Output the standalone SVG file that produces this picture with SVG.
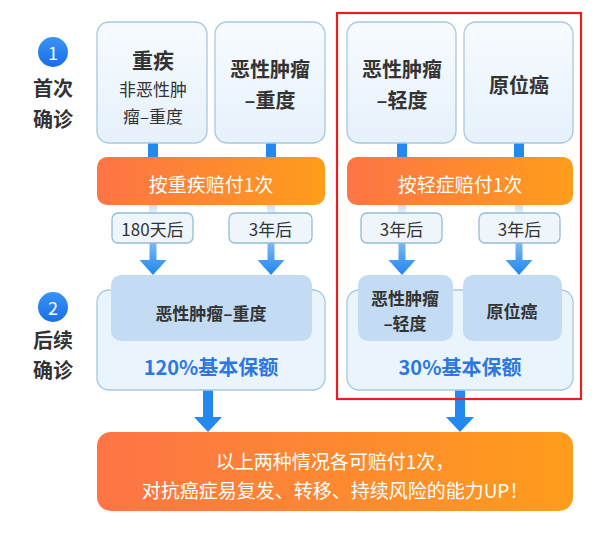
<svg xmlns="http://www.w3.org/2000/svg" width="599" height="540" viewBox="0 0 599 540">
<defs>
<linearGradient id="og" x1="0" y1="0" x2="1" y2="0"><stop offset="0" stop-color="#fd7446"/><stop offset="1" stop-color="#fe9d1b"/></linearGradient>
<linearGradient id="bx" x1="0" y1="0" x2="0" y2="1"><stop offset="0" stop-color="#f7fbff"/><stop offset="1" stop-color="#e6f1fb"/></linearGradient>
<linearGradient id="fade" x1="0" y1="0" x2="0" y2="1"><stop offset="0" stop-color="#c9dff3"/><stop offset="1" stop-color="#eaf3fb"/></linearGradient>
<linearGradient id="arr" x1="0" y1="0" x2="0" y2="1"><stop offset="0" stop-color="#7ab8f2"/><stop offset="1" stop-color="#1d86f0"/></linearGradient>
<linearGradient id="cg" x1="0" y1="0" x2="0" y2="1"><stop offset="0" stop-color="#3a93f5"/><stop offset="1" stop-color="#176fe6"/></linearGradient>
</defs>
<style>
.box{fill:url(#bx);stroke:#a6c9df;stroke-width:1.3}
.lab{fill:#eef6fc;stroke:#93bcd6;stroke-width:1.3}
.out{fill:#eaf4fd;stroke:#a6c9df;stroke-width:1.3}
.inn{fill:#c3dcf3}
.bar{fill:url(#og)}
.t{font-family:"Noto Sans CJK SC","Noto Sans",sans-serif;fill:#333;text-anchor:middle;dominant-baseline:central}
.b{font-weight:bold}
.w{fill:#fff}
.bl{fill:#2d78e0;font-weight:bold}
.conn{fill:#2489ee}
</style>
<g id="step1">
<circle cx="53" cy="52" r="15" fill="url(#cg)"/>
<text class="t w" x="53" y="52" font-size="18">1</text>
<text class="t b" x="53" y="87" font-size="20" fill="#444">首次</text>
<text class="t b" x="53" y="118" font-size="20" fill="#444">确诊</text>
</g>
<g id="step2">
<circle cx="53" cy="307" r="15" fill="url(#cg)"/>
<text class="t w" x="53" y="307" font-size="18">2</text>
<text class="t b" x="53" y="339" font-size="20" fill="#444">后续</text>
<text class="t b" x="53" y="369" font-size="20" fill="#444">确诊</text>
</g>
<g id="connectors">
<rect class="conn" x="148" y="142" width="10" height="16"/>
<rect class="conn" x="266" y="142" width="10" height="16"/>
<rect class="conn" x="397" y="142" width="10" height="16"/>
<rect class="conn" x="514" y="142" width="10" height="16"/>
<rect fill="url(#fade)" x="149" y="205" width="8" height="9"/>
<rect fill="url(#fade)" x="267" y="205" width="8" height="9"/>
<rect fill="url(#fade)" x="398" y="205" width="8" height="9"/>
<rect fill="url(#fade)" x="515" y="205" width="8" height="9"/>
<path fill="url(#arr)" d="M149.5 243h7v17h10l-13.5 15l-13.5-15h10z"/>
<path fill="url(#arr)" d="M267.5 243h7v17h10l-13.5 15l-13.5-15h10z"/>
<path fill="url(#arr)" d="M398.5 243h7v17h10l-13.5 15l-13.5-15h10z"/>
<path fill="url(#arr)" d="M515.5 243h7v17h10l-13.5 15l-13.5-15h10z"/>
<path class="conn" d="M203 390h10v27h9l-14 15l-14-15h9z"/>
<path class="conn" d="M455 390h10v27h9l-14 15l-14-15h9z"/>
</g>
<g id="node-zhongji">
<rect class="box" x="97" y="22" width="110" height="121" rx="12"/>
<text class="t b" x="153" y="59" font-size="21">重疾</text>
<text class="t" x="153" y="88" font-size="17">非恶性肿</text>
<text class="t" x="153" y="115" font-size="17">瘤–重度</text>
</g>
<g id="node-exing-zhong">
<rect class="box" x="215" y="22" width="110" height="121" rx="12"/>
<text class="t b" x="270" y="68" font-size="20">恶性肿瘤</text>
<text class="t b" x="270" y="99" font-size="20">–重度</text>
</g>
<g id="node-exing-qing">
<rect class="box" x="347" y="22" width="109" height="121" rx="12"/>
<text class="t b" x="402" y="68" font-size="20">恶性肿瘤</text>
<text class="t b" x="402" y="99" font-size="20">–轻度</text>
</g>
<g id="node-yuanwei">
<rect class="box" x="464" y="22" width="109" height="121" rx="12"/>
<text class="t b" x="519" y="84" font-size="20">原位癌</text>
</g>
<g id="bar-zhongji">
<rect class="bar" x="97" y="157" width="228" height="48" rx="10"/>
<text class="t w" x="211" y="183" font-size="19">按重疾赔付1次</text>
</g>
<g id="bar-qingzheng">
<rect class="bar" x="347" y="157" width="226" height="48" rx="10"/>
<text class="t w" x="460" y="183" font-size="19">按轻症赔付1次</text>
</g>
<g id="label-180">
<rect class="lab" x="112" y="213" width="81" height="30" rx="6"/>
<text class="t" x="152.5" y="228" font-size="17">180天后</text>
</g>
<g id="label-3a">
<rect class="lab" x="229" y="213" width="83" height="30" rx="6"/>
<text class="t" x="270.5" y="228" font-size="17">3年后</text>
</g>
<g id="label-3b">
<rect class="lab" x="361" y="213" width="81" height="30" rx="6"/>
<text class="t" x="401.5" y="228" font-size="17">3年后</text>
</g>
<g id="label-3c">
<rect class="lab" x="479" y="213" width="81" height="30" rx="6"/>
<text class="t" x="519.5" y="228" font-size="17">3年后</text>
</g>
<g id="node-120">
<rect class="out" x="97" y="290" width="228" height="100" rx="12"/>
<rect class="inn" x="111" y="275" width="201" height="66" rx="10"/>
<text class="t b" x="211" y="312" font-size="17">恶性肿瘤–重度</text>
<text class="t bl" x="211" y="366" font-size="20">120%基本保额</text>
</g>
<g id="node-30">
<rect class="out" x="347" y="290" width="226" height="100" rx="12"/>
<rect class="inn" x="358" y="275" width="95" height="66" rx="10"/>
<rect class="inn" x="463" y="275" width="99" height="66" rx="10"/>
<text class="t b" x="405" y="297" font-size="17">恶性肿瘤</text>
<text class="t b" x="405" y="322" font-size="17">–轻度</text>
<text class="t b" x="512" y="310" font-size="17">原位癌</text>
<text class="t bl" x="460" y="366" font-size="20">30%基本保额</text>
</g>
<g id="highlight">
<rect x="337" y="13" width="244" height="386" fill="none" stroke="#ee1c1c" stroke-width="2.2"/>
</g>
<g id="node-summary">
<rect class="bar" x="97" y="432" width="476" height="79" rx="14"/>
<text class="t w" x="335" y="460" font-size="19">以上两种情况各可赔付1次，</text>
<text class="t w" x="335" y="489" font-size="19">对抗癌症易复发、转移、持续风险的能力UP！</text>
</g>
</svg>
